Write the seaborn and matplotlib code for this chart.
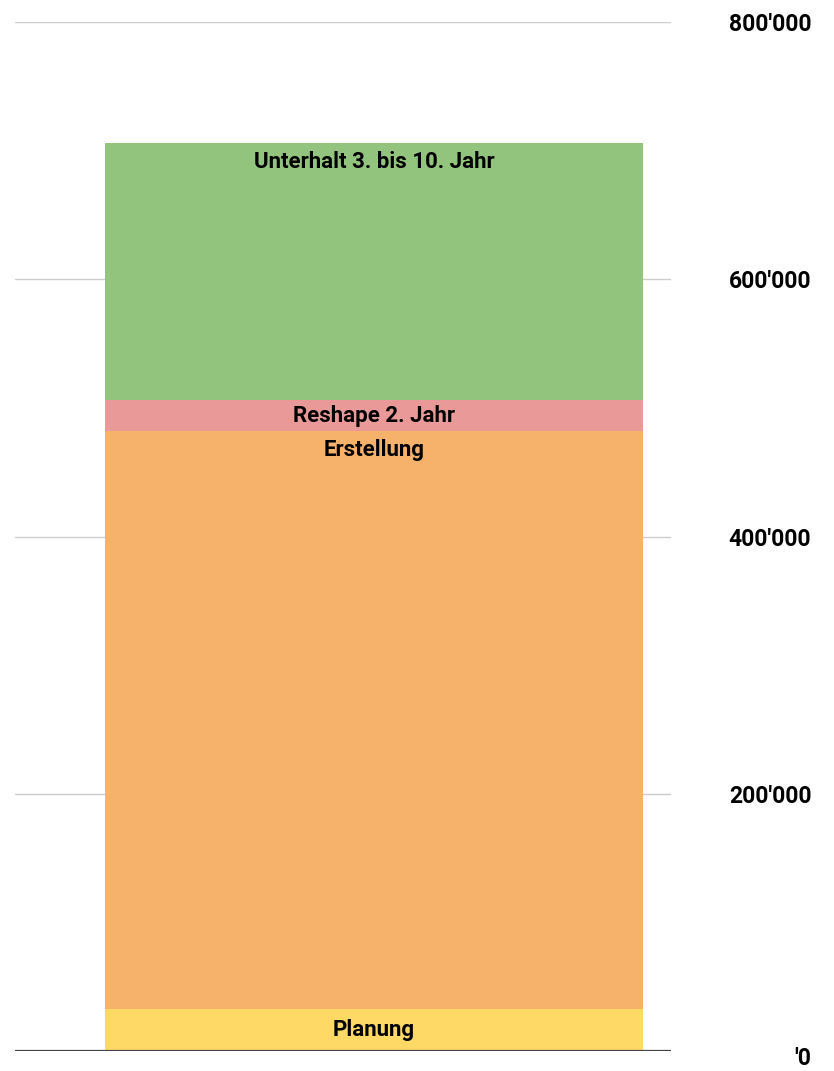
import numpy as np
import pandas as pd
import seaborn as sns
import matplotlib.pyplot as plt
import matplotlib.transforms as mtransforms

# stacked segments, bottom to top
segments = ['Planung', 'Erstellung', 'Reshape 2. Jahr', 'Unterhalt 3. bis 10. Jahr']
values = [32500, 449500, 24000, 200000]
colors = ['#FFD966', '#F6B26B', '#EA9999', '#93C47D']

tick_values = [0, 200000, 400000, 600000, 800000]
tick_labels = ["'0", "200'000", "400'000", "600'000", "800'000"]

sns.set_theme(style='white')
plt.rcParams['font.family'] = ['Roboto', 'DejaVu Sans']

df = pd.DataFrame({'segment': segments, 'value': values, 'cat': ['Kosten'] * len(segments)})
df['bottom'] = df['value'].cumsum() - df['value']

fig = plt.figure(figsize=(8.34, 10.71), dpi=100)
ax = fig.add_axes([15 / 834, 1 - 1051 / 1071, 656 / 834, 1029 / 1071])

for t in tick_values[1:]:
    ax.axhline(t, color='#cccccc', lw=1, zorder=0)

for i, row in df.iterrows():
    sns.barplot(data=df.iloc[[i]], x='cat', y='value', color=colors[i], width=0.82,
                bottom=row['bottom'], saturation=1, ax=ax, zorder=2,
                edgecolor='none', linewidth=0)

# segment labels near the top of each segment
for i, row in df.iterrows():
    top = row['bottom'] + row['value']
    if row['value'] < 40000:
        ax.text(0, top - row['value'] / 2, row['segment'], ha='center', va='center',
                fontsize=16, fontweight='bold', color='black', zorder=5)
    else:
        ax.annotate(row['segment'], xy=(0, top), xytext=(0, -14), textcoords='offset points',
                    ha='center', va='center', fontsize=16, fontweight='bold', color='black', zorder=5)

ax.axhline(0, color='#444444', lw=1.6, zorder=6)

ax.set_xlim(-0.547, 0.453)
ax.set_ylim(0, 800000)
ax.set_xlabel('')
ax.set_ylabel('')
ax.set_xticks([])
ax.yaxis.tick_right()
ax.set_yticks(tick_values)
ax.set_yticklabels(tick_labels)
ax.tick_params(axis='y', length=0, pad=101, labelsize=16.5, labelcolor='black')
for lab in ax.get_yticklabels():
    lab.set_ha('right')
    lab.set_fontweight('bold')
zero_lab = ax.get_yticklabels()[0]
zero_lab.set_va('top')
zero_lab.set_transform(zero_lab.get_transform() +
                       mtransforms.ScaledTranslation(0, 3 / 72, fig.dpi_scale_trans))
sns.despine(ax=ax, left=True, right=True, top=True, bottom=True)

fig.savefig('out.png', dpi=100, facecolor='white')
